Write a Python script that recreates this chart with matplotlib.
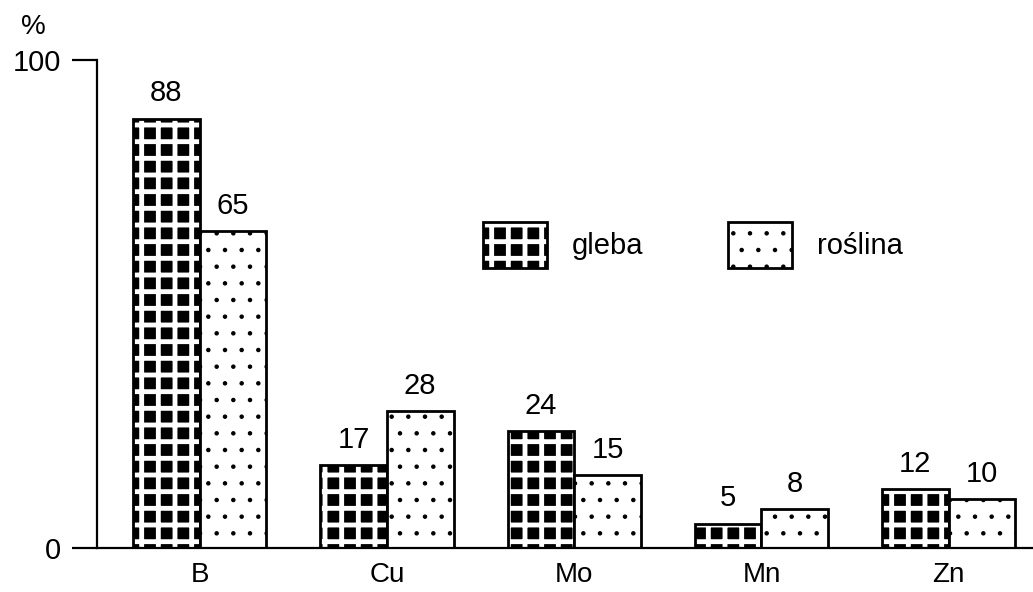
import numpy as np
import matplotlib
matplotlib.use("Agg")
import matplotlib.pyplot as plt
from matplotlib.patches import Patch
from matplotlib.legend_handler import HandlerTuple, HandlerPatch

# ==========================================
# DATA
# ==========================================
elements = ["B", "Cu", "Mo", "Mn", "Zn"]
gleba = [88, 17, 24, 5, 12]
roslina = [65, 28, 15, 8, 10]
series_names = ["gleba", "roślina"]
y_ticks = [0, 100]

plt.rcParams["font.family"] = ["Liberation Sans", "DejaVu Sans"]
plt.rcParams["hatch.linewidth"] = 3.5

fig = plt.figure(figsize=(10.33, 5.92), dpi=100)
ax = fig.add_axes([97 / 1033, 44 / 592, 1 - 97 / 1033, (548 - 60) / 592])

x = np.arange(len(elements))
w = 0.356

# gleba: dark blocks with white gaps, then a black outline on top
ax.bar(x - w / 2, gleba, w, color="black", edgecolor="white", hatch="+", linewidth=0)
bars_g = ax.bar(x - w / 2, gleba, w, facecolor="none", edgecolor="black", linewidth=2)

# roslina: sparse dots
with plt.rc_context({"hatch.linewidth": 0.8}):
    bars_r = ax.bar(x + w / 2, roslina, w, facecolor="white", edgecolor="black",
                    hatch=".", linewidth=2)

ax.bar_label(bars_g, labels=[str(v) for v in gleba], padding=8, fontsize=21)
ax.bar_label(bars_r, labels=[str(v) for v in roslina], padding=8, fontsize=21)

ax.set_xlim(-0.548, 4.45)
ax.set_ylim(0, 100)
ax.set_xticks(x)
ax.set_xticklabels(elements, fontsize=20)
ax.set_yticks(y_ticks)
ax.set_yticklabels([str(t) for t in y_ticks], fontsize=21)
ax.tick_params(axis="x", length=0, pad=10)
ax.tick_params(axis="y", length=18, width=1.6, pad=8)

for s in ["top", "right"]:
    ax.spines[s].set_visible(False)
for s in ["left", "bottom"]:
    ax.spines[s].set_linewidth(1.6)

fig.text(33 / 1033, 1 - 27 / 592, "%", fontsize=20, ha="center", va="center")


def copy_patch(legend_handle, orig_handle):
    # keep the hatch line width of the original patch in the legend
    legend_handle.update_from(orig_handle)
    if hasattr(orig_handle, "_hatch_linewidth"):
        legend_handle._hatch_linewidth = orig_handle._hatch_linewidth


# legend
h_g = (Patch(facecolor="black", edgecolor="white", hatch="+", linewidth=0),
       Patch(facecolor="none", edgecolor="black", linewidth=2))
with plt.rc_context({"hatch.linewidth": 0.8}):
    h_r = Patch(facecolor="white", edgecolor="black", hatch=".", linewidth=2)
ax.legend([h_g, h_r], series_names,
          handler_map={tuple: HandlerTuple(ndivide=1, pad=0),
                       Patch: HandlerPatch(update_func=copy_patch)},
          loc="center left", bbox_to_anchor=(483 / 1033, 1 - 245 / 592),
          bbox_transform=fig.transFigure, ncol=2, frameon=False, fontsize=21,
          handlelength=2.2, handleheight=2.1, handletextpad=0.85,
          columnspacing=2.9, borderpad=0, borderaxespad=0)

fig.savefig("out.png", dpi=100)
